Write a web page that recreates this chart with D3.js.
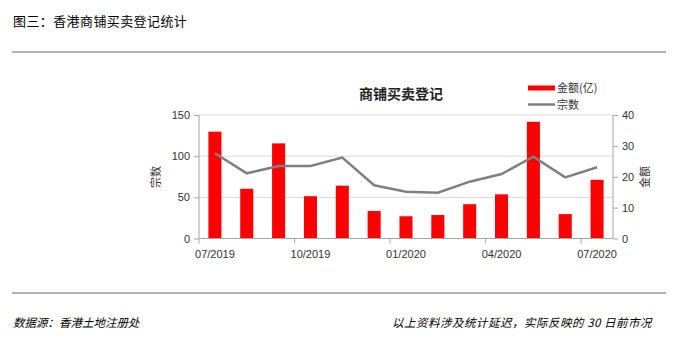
<!DOCTYPE html>
<html><head><meta charset="utf-8">
<script src="https://cdn.jsdelivr.net/npm/d3@7"></script>
<style>body{margin:0;background:#fff}svg{display:block}</style>
</head><body>
<script>
const categories = ["07/2019","08/2019","09/2019","10/2019","11/2019","12/2019","01/2020","02/2020","03/2020","04/2020","05/2020","06/2020","07/2020"];
const amountValues = [34.6,16.1,30.8,13.7,17.1,8.9,7.2,7.6,11.1,14.3,37.8,7.9,19.0];
const countValues = [103.5,79.2,88,88,98.2,64.6,56.9,55.6,69,78.3,99.4,74.3,86.5];
const leftTicks = [0,50,100,150];
const rightTicks = [0,10,20,30,40];
const xLabelCats = ["07/2019","10/2019","01/2020","04/2020","07/2020"];

const W=677,H=355;
const cjk = "'Noto Sans CJK SC','Noto Sans CJK TC',sans-serif";
const num = "'Liberation Sans','DejaVu Sans',sans-serif";
const svg = d3.select("body").append("svg").attr("width",W).attr("height",H);

// header
svg.append("text").attr("x",13).attr("y",26).attr("font-family",cjk).attr("font-size",13).attr("letter-spacing",0.4).attr("fill","#000").text("图三：香港商铺买卖登记统计");
svg.append("line").attr("x1",12).attr("x2",666).attr("y1",52).attr("y2",52).attr("stroke","#999").attr("stroke-width",1.5);
svg.append("line").attr("x1",12).attr("x2",666).attr("y1",293).attr("y2",293).attr("stroke","#999").attr("stroke-width",1.5);
svg.append("text").attr("x",13).attr("y",327).attr("font-family",cjk).attr("font-size",11.5).attr("font-style","italic").text("数据源：香港土地注册处");
svg.append("text").attr("x",652).attr("y",327).attr("text-anchor","end").attr("font-family",cjk).attr("font-size",11.5).attr("letter-spacing",0.5).attr("font-style","italic").text("以上资料涉及统计延迟，实际反映的 30 日前市况");

const L=199,R=613,T=115,B=238.5;
const x = d3.scaleBand().domain(categories).range([L,R]).paddingInner(0.59).paddingOuter(0.295);
const xs = d3.scaleBand().domain(categories).range([L,R]);
const yL = d3.scaleLinear().domain([0,150]).range([B,T]);
const yR = d3.scaleLinear().domain([0,40]).range([B,T]);

// gridlines
svg.append("g").selectAll("line").data(leftTicks.filter(d=>d>0)).join("line")
  .attr("x1",L).attr("x2",R).attr("y1",d=>yL(d)).attr("y2",d=>yL(d)).attr("stroke","#d9d9d9").attr("stroke-width",1);

// bars
svg.append("g").selectAll("rect").data(amountValues).join("rect")
  .attr("x",(d,i)=>x(categories[i])).attr("width",x.bandwidth())
  .attr("y",d=>yR(d)).attr("height",d=>B-yR(d)).attr("fill","#ff0000");

// line
svg.append("path").datum(countValues)
  .attr("d",d3.line().x((d,i)=>xs(categories[i])+xs.bandwidth()/2).y(d=>yL(d)))
  .attr("fill","none").attr("stroke","#808080").attr("stroke-width",2.5);

// axes
const axColor="#a6a6a6";
const gl = svg.append("g").attr("transform",`translate(${L},0)`).call(d3.axisLeft(yL).tickValues(leftTicks).tickSize(5).tickPadding(4));
const gr = svg.append("g").attr("transform",`translate(${R},0)`).call(d3.axisRight(yR).tickValues(rightTicks).tickSize(5).tickPadding(4));
[gl,gr].forEach(g=>{
  g.select(".domain").attr("stroke",axColor).attr("d",`M0,${T}V${B}`);
  g.selectAll(".tick line").attr("stroke",axColor);
  g.selectAll("text").attr("font-family",num).attr("font-size",11).attr("fill","#333");
});
// x axis
svg.append("line").attr("x1",L).attr("x2",R).attr("y1",B).attr("y2",B).attr("stroke",axColor);
svg.append("g").selectAll("line").data([0,3,6,9,12]).join("line")
  .attr("x1",i=>L+i*xs.step()).attr("x2",i=>L+i*xs.step()).attr("y1",B).attr("y2",B+5).attr("stroke",axColor);
svg.append("g").selectAll("text").data(xLabelCats).join("text")
  .attr("x",d=>xs(d)+xs.bandwidth()/2).attr("y",258).attr("text-anchor","middle")
  .attr("font-family",num).attr("font-size",11).attr("fill","#333").text(d=>d);

// axis titles
svg.append("text").attr("transform","translate(160,177) rotate(-90)").attr("text-anchor","middle")
  .attr("font-family",cjk).attr("font-size",11).attr("fill","#333").text("宗数");
svg.append("text").attr("transform","translate(649,177) rotate(-90)").attr("text-anchor","middle")
  .attr("font-family",cjk).attr("font-size",11).attr("fill","#333").text("金额");

// title
svg.append("text").attr("x",401).attr("y",99).attr("text-anchor","middle")
  .attr("font-family",cjk).attr("font-size",14).attr("font-weight","bold").attr("fill","#222").text("商铺买卖登记");

// legend
const lg = svg.append("g");
lg.append("rect").attr("x",528).attr("y",85.5).attr("width",27).attr("height",5).attr("fill","#ff0000");
lg.append("text").attr("x",557).attr("y",92).attr("font-family",cjk).attr("font-size",11).attr("fill","#333").text("金额(亿)");
lg.append("line").attr("x1",528).attr("x2",555).attr("y1",104.5).attr("y2",104.5).attr("stroke","#808080").attr("stroke-width",2.5);
lg.append("text").attr("x",557).attr("y",108.5).attr("font-family",cjk).attr("font-size",11).attr("fill","#333").text("宗数");
</script>
</body></html>
